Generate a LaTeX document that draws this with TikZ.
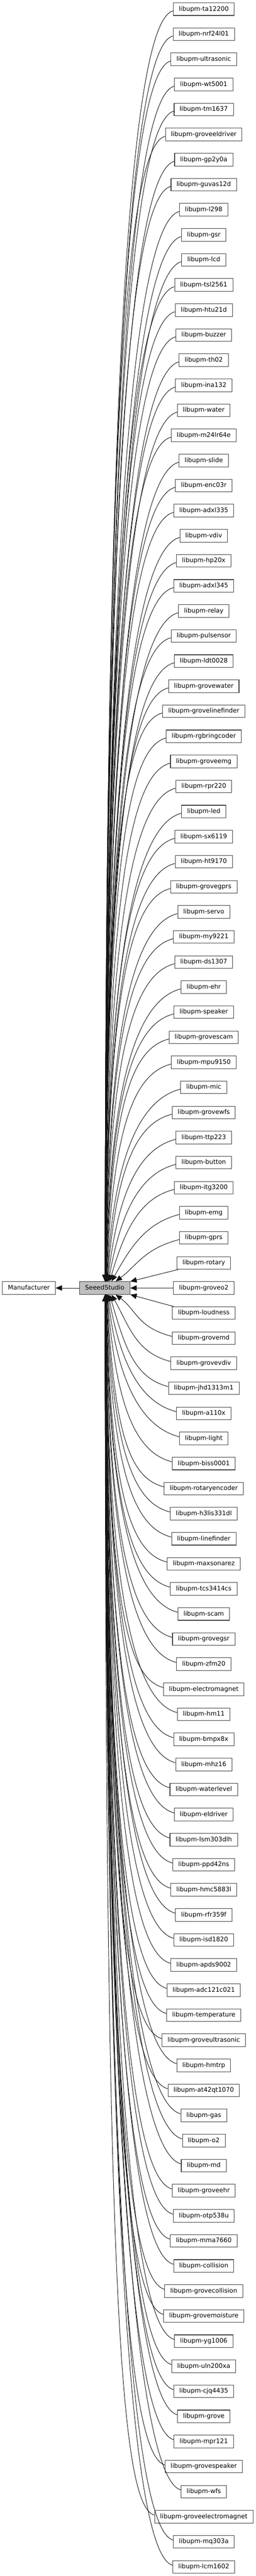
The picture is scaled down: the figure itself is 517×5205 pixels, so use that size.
\documentclass[tikz,border=0pt]{standalone}
\usepackage{fontspec}
\setmainfont{DejaVu Sans}
\usetikzlibrary{arrows.meta,calc}
\definecolor{bordergray}{RGB}{64,64,64}
\definecolor{seeedfill}{RGB}{191,191,191}
\definecolor{edgecol}{RGB}{20,20,20}
\begin{document}
\begin{tikzpicture}[x=1pt,y=1pt,
  box/.style={draw=bordergray, line width=1.1pt, fill=white, minimum height=25.5pt,
    inner xsep=11.2pt, inner ysep=0pt, text height=9.4pt, text depth=2.6pt,
    font=\fontsize{12.65}{14}\selectfont},
  conn/.style={draw=edgecol, line width=1pt, -{Triangle[length=13pt,width=11pt]}}]
\fill[white] (0,0) rectangle (517,-5205);
\useasboundingbox (0,0) rectangle (517,-5205);

\node[box] (man) at (58.3,-2602.5) {Manufacturer};
\node[box, fill=seeedfill] (seeed) at (211.7,-2602.5) {SeeedStudio};
\draw[conn] (seeed.west) -- (man.east);

\foreach \lab [count=\k] in {ta12200, nrf24l01, ultrasonic, wt5001, tm1637, groveeldriver, gp2y0a, guvas12d, l298, gsr, lcd, tsl2561, htu21d, buzzer, th02, ina132, water, m24lr64e, slide, enc03r, adxl335, vdiv, hp20x, adxl345, relay, pulsensor, ldt0028, grovewater, grovelinefinder, rgbringcoder, groveemg, rpr220, led, sx6119, ht9170, grovegprs, servo, my9221, ds1307, ehr, speaker, grovescam, mpu9150, mic, grovewfs, ttp223, button, itg3200, emg, gprs, rotary, groveo2, loudness, grovemd, grovevdiv, jhd1313m1, a110x, light, biss0001, rotaryencoder, h3lis331dl, linefinder, maxsonarez, tcs3414cs, scam, grovegsr, zfm20, electromagnet, hm11, bmpx8x, mhz16, waterlevel, eldriver, lsm303dlh, ppd42ns, hmc5883l, rfr359f, isd1820, apds9002, adc121c021, temperature, groveultrasonic, hmtrp, at42qt1070, gas, o2, md, groveehr, otp538u, mma7660, collision, grovecollision, grovemoisture, yg1006, uln200xa, cjq4435, grove, mpr121, grovespeaker, wfs, groveelectromagnet, mq303a, lcm1602}{
  \pgfmathsetmacro\yy{-(18.5+(\k-1)*50.6667)}
  \node[box] (n\k) at (411.8,\yy) {libupm-\lab};
}

\foreach \k in {1,...,103}{
  \pgfmathtruncatemacro\d{\k-52}
  \pgfmathtruncatemacro\ad{abs(\d)}
  \ifnum\ad=0
    \draw[conn] (n\k.west) -- (seeed.east);
  \else\ifnum\ad=1
    \ifnum\d<0
      \draw[conn] ($(n\k.south west)+(3,0)$) -- (seeed.north east);
    \else
      \draw[conn] ($(n\k.north west)+(3,0)$) -- (seeed.south east);
    \fi
  \else
    \pgfmathsetmacro\D{\ad*50.6667}
    \pgfmathsetmacro\cc{0.8*\D*(1-exp(-\D/200))}
    \pgfmathsetmacro\ee{60*exp(-\D/300)}
    \pgfmathsetmacro\xe{212+50/(\ad^1.2)}
    \pgfmathsetmacro\xc{\xe+\ee}
    \ifnum\d<0
      \draw[conn] ($(n\k.west)+(0,-3.5)$) .. controls ($(n\k.west)+(-70,-21.5)$) and ($(\xc,0 |- seeed.north)+(0,\cc)$) .. (\xe,0 |- seeed.north);
    \else
      \draw[conn] ($(n\k.west)+(0,3.5)$) .. controls ($(n\k.west)+(-70,21.5)$) and ($(\xc,0 |- seeed.south)+(0,-\cc)$) .. (\xe,0 |- seeed.south);
    \fi
  \fi\fi
}
\end{tikzpicture}
\end{document}
